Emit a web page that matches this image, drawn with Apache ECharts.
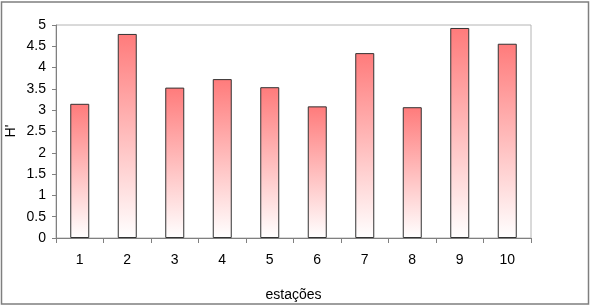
<!DOCTYPE html>
<html><head><meta charset="utf-8">
<script src="https://cdn.jsdelivr.net/npm/echarts@6/dist/echarts.min.js"></script>
<style>html,body{margin:0;padding:0;background:#fff}#c{width:590px;height:306px}</style>
</head><body><div id="c"></div>
<script>
const categories = ['1','2','3','4','5','6','7','8','9','10'];
const values = [3.15, 4.79, 3.53, 3.73, 3.54, 3.09, 4.34, 3.07, 4.93, 4.56];
const yTicks = [0, 0.5, 1, 1.5, 2, 2.5, 3, 3.5, 4, 4.5, 5];
const xName = 'estações';
const yName = "H'";

const chart = echarts.init(document.getElementById('c'), null, {renderer: 'canvas'});
const font = 'Liberation Sans, Arial, sans-serif';
chart.setOption({
  animation: false,
  graphic: [{
    type: 'rect', shape: {x: 1.5, y: 2, width: 587, height: 302},
    style: {fill: 'none', stroke: '#7f7f7f', lineWidth: 1.5}, z: 100
  }, {
    type: 'text', x: 11, y: 131, rotation: Math.PI / 2,
    style: {text: yName, fontFamily: font, fontSize: 14, fill: '#000', align: 'center', verticalAlign: 'middle'}
  }],
  grid: {left: 56, right: 59, top: 25, bottom: 68, containLabel: false, outerBoundsMode: 'none',
    show: true, borderColor: '#b4b4b4', borderWidth: 1, backgroundColor: '#fff'},
  xAxis: {
    type: 'category', data: categories,
    name: xName, nameLocation: 'middle', nameGap: 50,
    nameTextStyle: {fontFamily: font, fontSize: 14, color: '#000'},
    axisLine: {lineStyle: {color: '#808080', width: 1}},
    axisTick: {show: true, alignWithLabel: false, length: 5, lineStyle: {color: '#808080'}},
    axisLabel: {fontFamily: font, fontSize: 14, color: '#000', margin: 15}
  },
  yAxis: {
    type: 'value', min: 0, max: 5, interval: 0.5,
    axisLine: {show: true, lineStyle: {color: '#808080', width: 1}},
    axisTick: {show: true, length: 4, lineStyle: {color: '#808080'}},
    splitLine: {show: false},
    axisLabel: {fontFamily: font, fontSize: 14, color: '#000', margin: 10,
      formatter: v => String(yTicks.find(t => Math.abs(t - v) < 1e-9) ?? v)}
  },
  series: [{
    type: 'bar', data: values, barWidth: '40%',
    itemStyle: {
      color: new echarts.graphic.LinearGradient(0, 0, 0, 1, [
        {offset: 0, color: '#ff7b7b'},
        {offset: 1, color: '#ffffff'}
      ]),
      borderColor: '#333333', borderWidth: 1
    }
  }]
});
</script></body></html>
